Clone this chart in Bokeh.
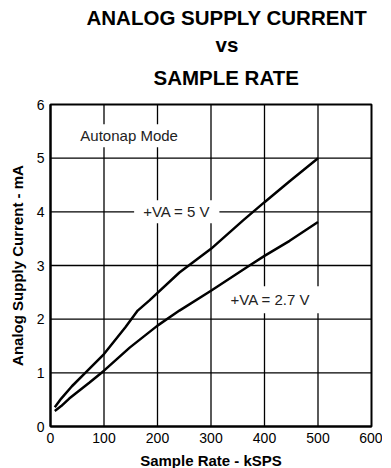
from bokeh.plotting import figure
from bokeh.models import Label, Range1d, FixedTicker, Span, Title
from bokeh.embed import file_html
from bokeh.resources import INLINE

# Data
rate_5v = [8, 20, 40, 65, 100, 140, 163, 185, 241, 300, 360, 400, 447, 500]
current_5v = [0.36, 0.52, 0.75, 1.0, 1.35, 1.85, 2.16, 2.35, 2.87, 3.31, 3.84, 4.18, 4.57, 5.0]

rate_27v = [8, 20, 35, 73, 100, 148, 200, 241, 300, 372, 400, 447, 500]
current_27v = [0.29, 0.38, 0.52, 0.82, 1.04, 1.47, 1.88, 2.16, 2.53, 3.0, 3.18, 3.46, 3.81]

x_ticks = [0, 100, 200, 300, 400, 500, 600]
y_ticks = [0, 1, 2, 3, 4, 5, 6]

title_lines = ["ANALOG SUPPLY CURRENT", "vs", "SAMPLE RATE"]
x_label = "Sample Rate - kSPS"
y_label = "Analog Supply Current - mA"

FONT = "Liberation Sans"

p = figure(
    frame_width=321, frame_height=322,
    min_border_left=43, min_border_right=11,
    min_border_top=104, min_border_bottom=34,
    x_range=Range1d(0, 600), y_range=Range1d(0, 6),
    output_backend="svg", toolbar_location=None,
)
p.background_fill_color = "white"
p.border_fill_color = "white"
p.outline_line_color = "black"
p.outline_line_width = 2
p.outline_line_alpha = 1

for ax in (p.xaxis[0], p.yaxis[0]):
    ax.axis_line_color = "black"
    ax.axis_line_width = 2
    ax.major_tick_in = 0
    ax.major_tick_out = 0
    ax.minor_tick_in = 0
    ax.minor_tick_out = 0
    ax.major_label_text_font = FONT
    ax.major_label_text_font_size = "14px"
    ax.major_label_text_color = "black"
    ax.major_label_standoff = 6
    ax.axis_label_text_font = FONT
    ax.axis_label_text_font_style = "bold"
    ax.axis_label_text_font_size = "15px"
    ax.axis_label_text_color = "black"

p.xaxis[0].ticker = FixedTicker(ticks=x_ticks)
p.yaxis[0].ticker = FixedTicker(ticks=y_ticks)
p.xaxis[0].axis_label = x_label
p.yaxis[0].axis_label = y_label
p.xaxis[0].axis_label_standoff = 6
p.yaxis[0].axis_label_standoff = 8

# small spacer outside the y axis
p.add_layout(Title(text=" ", text_font_size="2px", standoff=1), "left")

# grid drawn as spans at the tick positions
p.xgrid.grid_line_color = None
p.ygrid.grid_line_color = None
for t in x_ticks[1:-1]:
    p.add_layout(Span(location=t, dimension="height", line_color="black",
                      line_width=1.3, level="underlay"))
for t in y_ticks[1:-1]:
    p.add_layout(Span(location=t, dimension="width", line_color="black",
                      line_width=1.3, level="underlay"))

p.line(rate_5v, current_5v, line_color="black", line_width=2.5)
p.line(rate_27v, current_27v, line_color="black", line_width=2.5)

def boxed(text, x, y, pad):
    p.add_layout(Label(
        x=x, y=y, text=text, text_align="center", text_baseline="middle",
        text_font=FONT, text_font_size="15px", text_color="#222222",
        background_fill_color="white", background_fill_alpha=1.0,
        padding=pad,
    ))

boxed("Autonap Mode", 147, 5.42, dict(left=2, right=2, top=3, bottom=3))
boxed("+VA = 5 V", 236, 4.0, dict(left=9, right=9, top=3, bottom=3))
boxed("+VA = 2.7 V", 411, 2.36, dict(left=9, right=9, top=5, bottom=5))

# spacer between frame and title block
p.add_layout(Title(text=" ", text_font_size="2px", standoff=7), "above")
# title: three stacked lines, nearest-to-frame first
title_offsets = [36, 165, 103]
title_standoffs = [0, 5, 10]
for t, off, so in reversed(list(zip(title_lines, title_offsets, title_standoffs))):
    p.add_layout(Title(
        text=t, align="left", offset=off, standoff=so,
        text_font=FONT, text_font_style="bold", text_font_size="20.5px",
        text_color="black",
    ), "above")

open("out.html", "w").write(file_html(p, INLINE))
